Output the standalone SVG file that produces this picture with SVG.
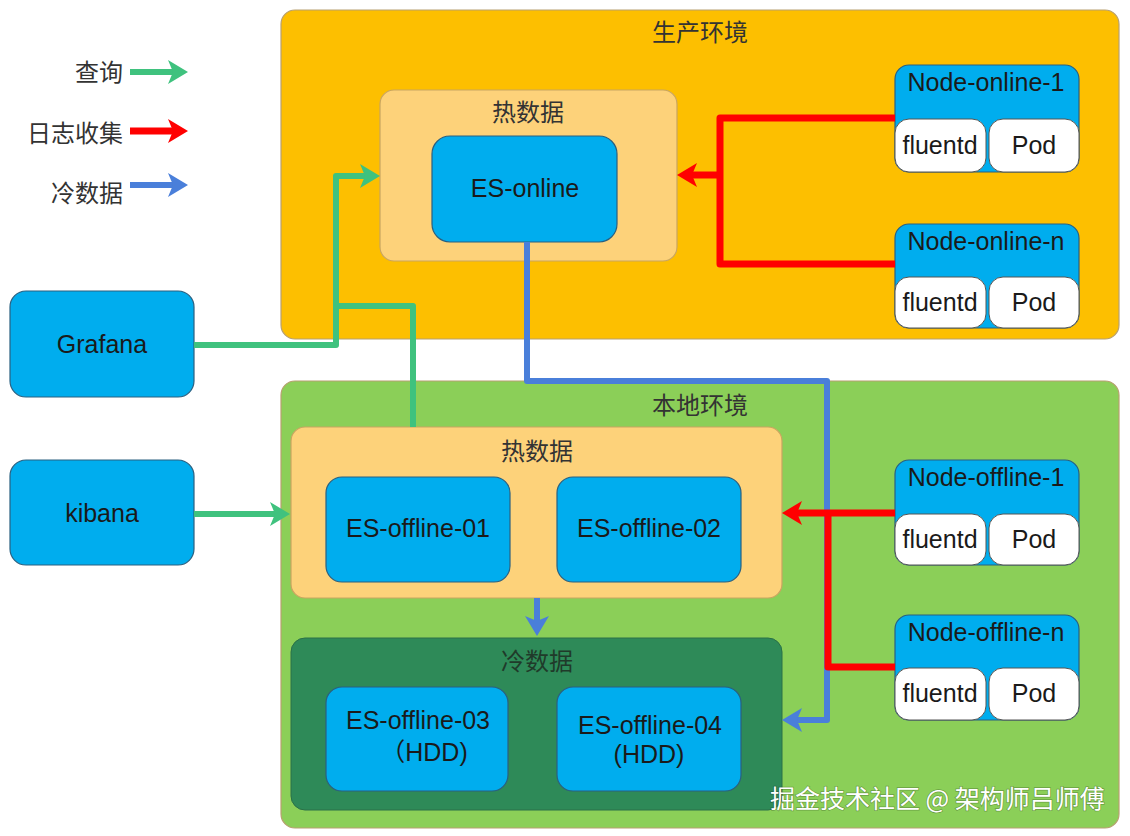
<svg xmlns="http://www.w3.org/2000/svg" width="1130" height="836" viewBox="0 0 1130 836">
<style>
.t{font-family:"Liberation Sans","Noto Sans CJK SC",sans-serif;fill:#1a1a1a;text-anchor:middle;dominant-baseline:central}
.cn{font-family:"Noto Sans CJK SC","Liberation Sans",sans-serif;fill:#333;text-anchor:middle;dominant-baseline:central;font-size:24px}
.lbl{font-size:25px}
.env{stroke:#b8a070;stroke-width:1.2}
.hot{fill:#FDD27A;stroke:#c9a560;stroke-width:1.2}
.es{fill:#00ADEE;stroke:#2a6080;stroke-width:1.2}
.pod{fill:#fff;stroke:#555;stroke-width:1}
.g{fill:none;stroke:#3FC27E;stroke-width:6;stroke-linejoin:round}
.r{fill:none;stroke:#FF0000;stroke-width:7;stroke-linejoin:round}
.b{fill:none;stroke:#4A7FDA;stroke-width:6;stroke-linejoin:round}
</style>
<defs>
<marker id="ag" markerUnits="userSpaceOnUse" markerWidth="22" markerHeight="24" refX="5" refY="12" orient="auto" overflow="visible"><path d="M0,0 L20,12 L0,24 L5,12 z" fill="#3FC27E"/></marker>
<marker id="ar" markerUnits="userSpaceOnUse" markerWidth="22" markerHeight="24" refX="5" refY="12" orient="auto" overflow="visible"><path d="M0,0 L20,12 L0,24 L5,12 z" fill="#FF0000"/></marker>
<marker id="ab" markerUnits="userSpaceOnUse" markerWidth="22" markerHeight="24" refX="5" refY="12" orient="auto" overflow="visible"><path d="M0,0 L20,12 L0,24 L5,12 z" fill="#4A7FDA"/></marker>
</defs>
<rect width="1130" height="836" fill="#fff"/>

<g id="legend">
<text class="cn" x="123" y="70" style="text-anchor:end">查询</text>
<text class="cn" x="123" y="131" style="text-anchor:end">日志收集</text>
<text class="cn" x="123" y="191" style="text-anchor:end">冷数据</text>
<path class="g" d="M130,72 H173" marker-end="url(#ag)"/>
<path class="r" d="M130,131 H173" marker-end="url(#ar)"/>
<path class="b" d="M130,185 H173" marker-end="url(#ab)"/>
</g>

<g id="prod-env">
<rect class="env" x="281" y="10" width="838" height="329" rx="14" fill="#FDBF00"/>
<text class="cn" x="700" y="30">生产环境</text>
</g>
<g id="prod-hot">
<rect class="hot" x="380" y="90" width="297" height="171" rx="14"/>
<text class="cn" x="528" y="110">热数据</text>
</g>
<g id="es-online">
<rect class="es" x="432" y="136" width="185" height="106" rx="18"/>
<text class="t lbl" x="525" y="188">ES-online</text>
</g>
<g id="node-online-1">
<rect class="es" x="895" y="65" width="184" height="107" rx="14"/>
<text class="t lbl" x="986" y="82">Node-online-1</text>
<rect class="pod" x="895" y="119" width="91" height="53" rx="14"/>
<text class="t lbl" x="940" y="145">fluentd</text>
<rect class="pod" x="989" y="119" width="90" height="53" rx="14"/>
<text class="t lbl" x="1034" y="145">Pod</text>
</g>
<g id="node-online-n">
<rect class="es" x="895" y="224" width="184" height="104" rx="14"/>
<text class="t lbl" x="986" y="241">Node-online-n</text>
<rect class="pod" x="895" y="277" width="91" height="51" rx="14"/>
<text class="t lbl" x="940" y="302">fluentd</text>
<rect class="pod" x="989" y="277" width="90" height="51" rx="14"/>
<text class="t lbl" x="1034" y="302">Pod</text>
</g>

<g id="grafana">
<rect class="es" x="10" y="291" width="184" height="106" rx="16"/>
<text class="t lbl" x="102" y="344">Grafana</text>
</g>
<g id="kibana">
<rect class="es" x="10" y="460" width="184" height="105" rx="16"/>
<text class="t lbl" x="102" y="513">kibana</text>
</g>

<g id="local-env">
<rect class="env" x="281" y="381" width="838" height="447" rx="14" fill="#8BCF58" stroke="#9a9a9a"/>
<text class="cn" x="700" y="403">本地环境</text>
</g>
<g id="local-hot">
<rect class="hot" x="291" y="427" width="491" height="171" rx="14"/>
<text class="cn" x="537" y="449">热数据</text>
</g>
<g id="es-offline-01">
<rect class="es" x="326" y="477" width="184" height="105" rx="16"/>
<text class="t lbl" x="418" y="528">ES-offline-01</text>
</g>
<g id="es-offline-02">
<rect class="es" x="557" y="477" width="184" height="105" rx="16"/>
<text class="t lbl" x="649" y="528">ES-offline-02</text>
</g>
<g id="local-cold">
<rect x="291" y="638" width="491" height="172" rx="14" fill="#2E8A58" stroke="#2a7048" stroke-width="1"/>
<text class="cn" x="537" y="659" style="fill:#203a2a">冷数据</text>
</g>
<g id="es-offline-03">
<rect class="es" x="326" y="687" width="182" height="104" rx="16"/>
<text class="t lbl" x="418" y="720">ES-offline-03</text>
<text class="t lbl" x="424" y="752">（HDD)</text>
</g>
<g id="es-offline-04">
<rect class="es" x="557" y="687" width="184" height="104" rx="16"/>
<text class="t lbl" x="650" y="725">ES-offline-04</text>
<text class="t lbl" x="649" y="754">(HDD)</text>
</g>
<g id="node-offline-1">
<rect class="es" x="895" y="460" width="184" height="105" rx="14"/>
<text class="t lbl" x="986" y="477">Node-offline-1</text>
<rect class="pod" x="895" y="514" width="91" height="51" rx="14"/>
<text class="t lbl" x="940" y="539">fluentd</text>
<rect class="pod" x="989" y="514" width="90" height="51" rx="14"/>
<text class="t lbl" x="1034" y="539">Pod</text>
</g>
<g id="node-offline-n">
<rect class="es" x="895" y="615" width="184" height="105" rx="14"/>
<text class="t lbl" x="986" y="632">Node-offline-n</text>
<rect class="pod" x="895" y="668" width="91" height="52" rx="14"/>
<text class="t lbl" x="940" y="693">fluentd</text>
<rect class="pod" x="989" y="668" width="90" height="52" rx="14"/>
<text class="t lbl" x="1034" y="693">Pod</text>
</g>

<g id="connectors">
<path class="b" d="M527,242 V381 H827 V720 H797" marker-end="url(#ab)"/>
<path class="b" d="M537,598 V621" marker-end="url(#ab)"/>
<path class="g" d="M194,345 H336 V176 H365" marker-end="url(#ag)"/>
<path class="g" d="M413,427 V306 H336"/>
<path class="g" d="M194,514 H275" marker-end="url(#ag)"/>
<path class="r" d="M895,118 H720 V264 H895"/>
<path class="r" d="M720,175 H692" marker-end="url(#ar)"/>
<path class="r" d="M895,513 H797" marker-end="url(#ar)"/>
<path class="r" d="M828,513 V667 H895"/>
</g>

<text x="770" y="797" style="font-family:'Noto Sans CJK SC',sans-serif;font-size:25px;fill:#fff;dominant-baseline:central;paint-order:stroke;stroke:rgba(0,0,0,0.25);stroke-width:1.5">掘金技术社区 @ 架构师吕师傅</text>
</svg>
